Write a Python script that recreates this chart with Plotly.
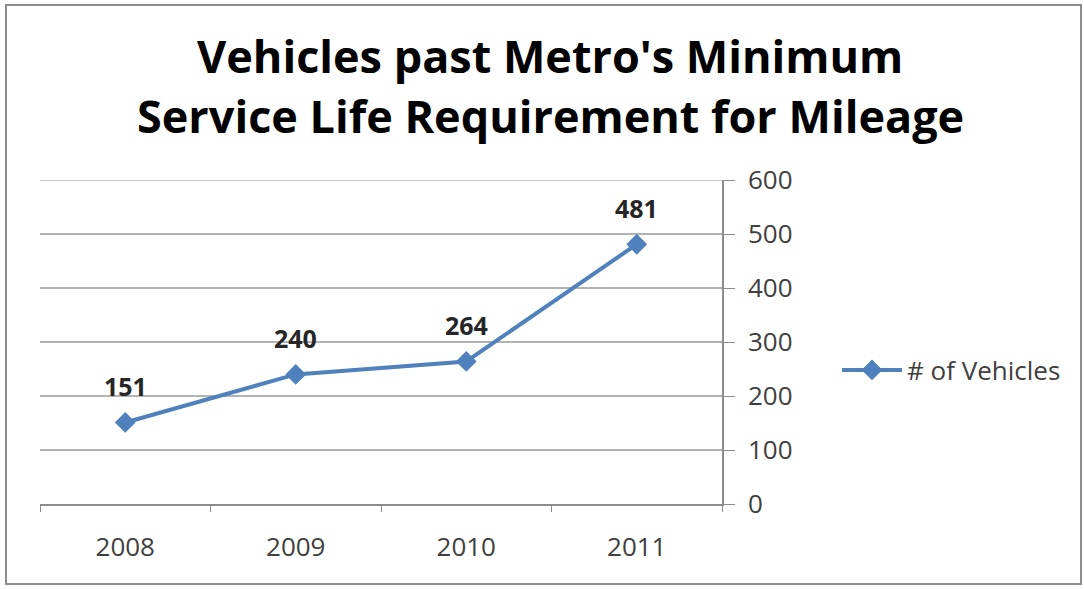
import plotly.graph_objects as go

years = ["2008", "2009", "2010", "2011"]
vehicles = [151, 240, 264, 481]
series_name = "# of Vehicles"
y_ticks = [0, 100, 200, 300, 400, 500, 600]
title_lines = ["Vehicles past Metro's Minimum", "Service Life Requirement for Mileage"]

L, R, T, B = 40, 722, 180, 504
W, H = 1084, 589
pw, ph = R - L, B - T

line_color = "#4F81BD"
font_family = "'Open Sans', sans-serif"
text_gray = "#404040"


def px_x(x):
    return (x - L) / pw


def px_y(y):
    return (B - y) / ph


fig = go.Figure()
fig.add_trace(go.Scatter(
    x=years, y=vehicles, name=series_name,
    mode="lines+markers",
    line=dict(color=line_color, width=4),
    marker=dict(symbol="diamond", size=16, color=line_color),
))

for i, v in enumerate(vehicles):
    fig.add_annotation(x=i, y=v, text=f"<b>{v}</b>", showarrow=False,
                       yshift=36, font=dict(size=25, color="#262626", family=font_family))

for line, yc in zip(title_lines, [55, 115]):
    fig.add_annotation(xref="paper", yref="paper", x=px_x(550), y=px_y(yc),
                       xanchor="center", yanchor="middle", showarrow=False,
                       text=f"<b>{line}</b>",
                       font=dict(size=45, color="#000000", family=font_family))

# top gridline (600) and outer border
fig.add_shape(type="line", xref="paper", yref="y", x0=0, x1=1,
              y0=y_ticks[-1], y1=y_ticks[-1], line=dict(color="#b3b3b3", width=1.5), layer="below")
fig.add_shape(type="rect", xref="paper", yref="paper",
              x0=px_x(6), x1=px_x(1081), y0=px_y(584), y1=px_y(5),
              line=dict(color="#8c8c8c", width=2), layer="below")

fig.update_layout(
    width=W, height=H,
    margin=dict(l=L, r=W - R, t=T, b=H - B),
    paper_bgcolor="white", plot_bgcolor="white",
    showlegend=True,
    legend=dict(x=px_x(837), y=px_y(370), xanchor="left", yanchor="middle",
                itemwidth=60,
                font=dict(size=26, color=text_gray, family=font_family),
                bgcolor="rgba(0,0,0,0)"),
    font=dict(family=font_family),
)

fig.update_xaxes(
    type="category", range=[-0.5, 3.5],
    showgrid=False, showline=True, linecolor="#8c8c8c", linewidth=1.5,
    ticks="outside", tickson="boundaries", ticklen=6, tickcolor="#8c8c8c",
    tickfont=dict(size=26, color=text_gray, family=font_family),
    ticklabelstandoff=19,
)
fig.update_yaxes(
    side="right", range=[0, 600], tickvals=y_ticks,
    showgrid=True, gridcolor="#b3b3b3", gridwidth=1.5,
    showline=True, linecolor="#8c8c8c", linewidth=1.5,
    ticks="outside", ticklen=11, tickcolor="#8c8c8c",
    tickfont=dict(size=26, color=text_gray, family=font_family),
    ticklabelstandoff=8, zeroline=False,
)

fig.write_html("out.html", config={"displayModeBar": False},
               post_script="document.body.style.margin='0';")
